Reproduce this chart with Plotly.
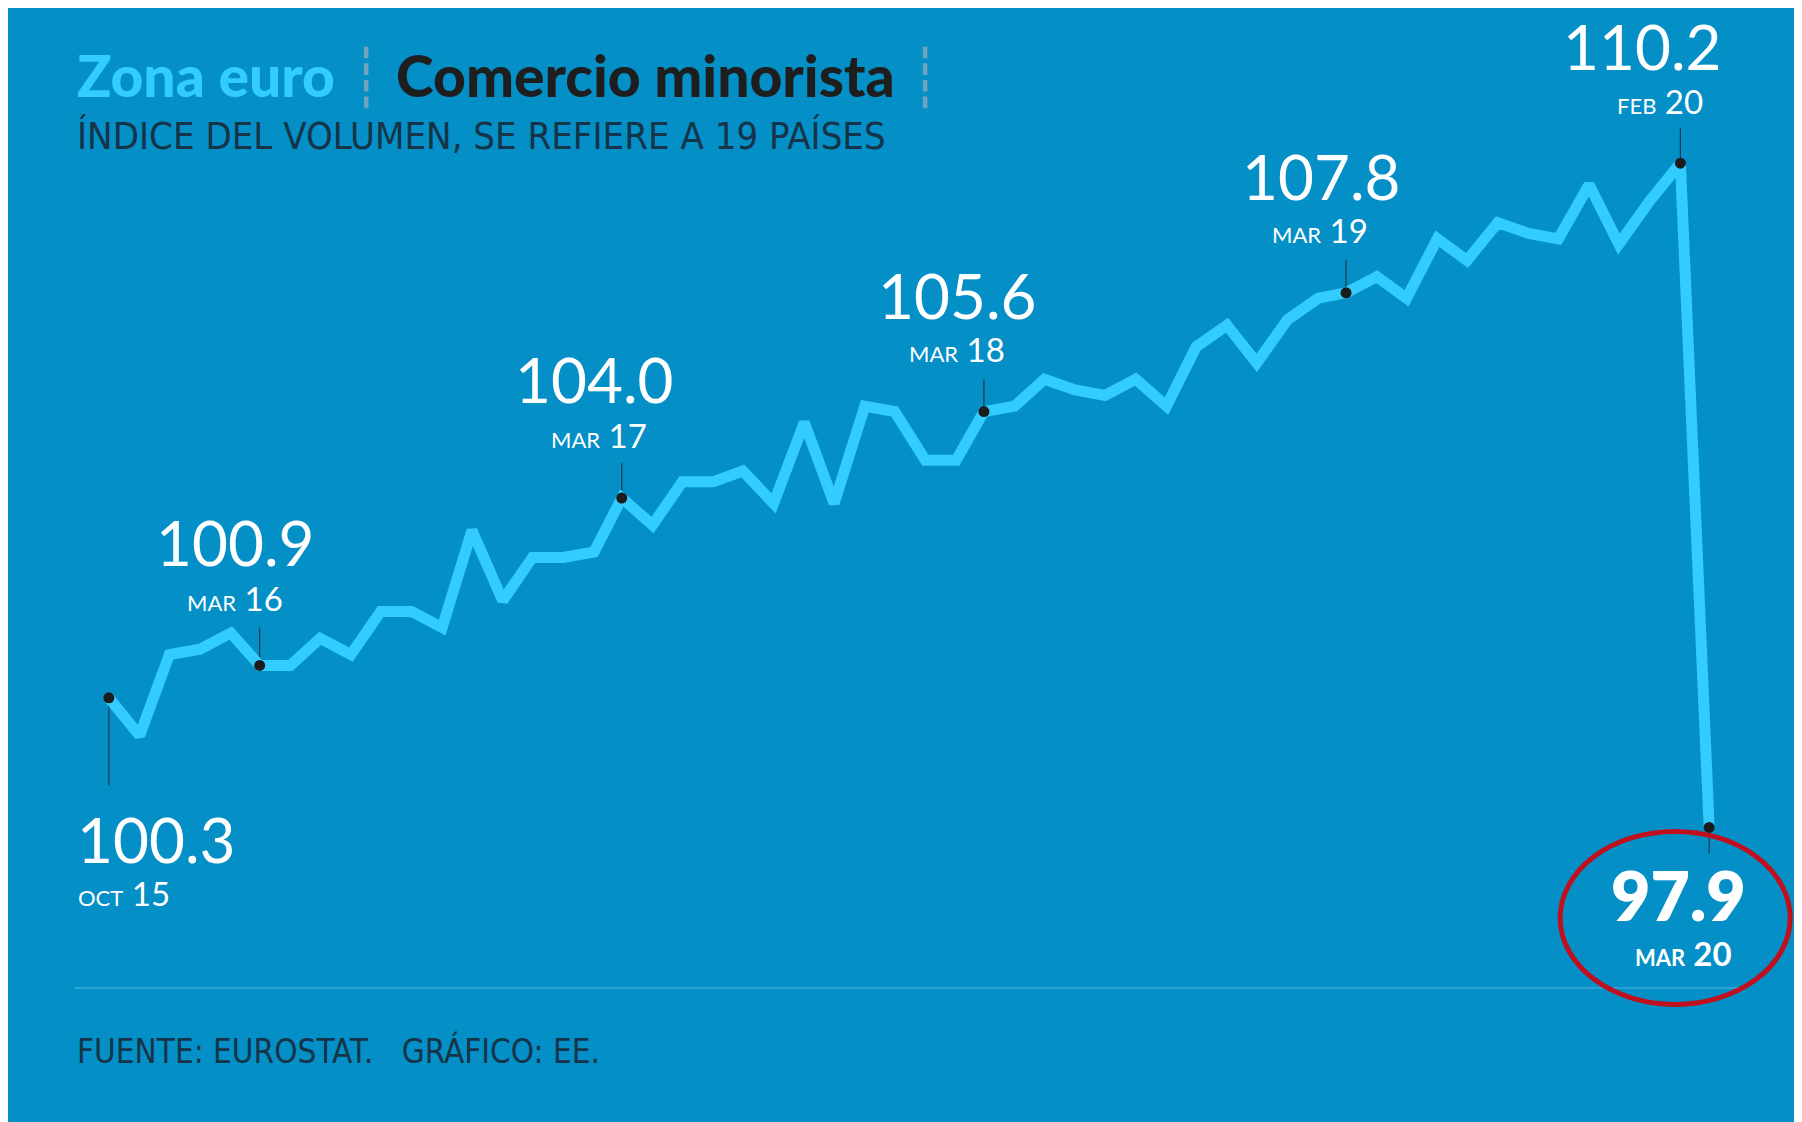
import plotly.graph_objects as go
import pandas as pd

# ---------------- data ----------------
months = pd.date_range("2015-10-01", "2020-03-01", freq="MS")
values = [100.3, 99.6, 101.1, 101.2, 101.5, 100.9, 100.9, 101.4, 101.1, 101.9, 101.9, 101.6,
          103.4, 102.1, 102.9, 102.9, 103.0, 104.0, 103.5, 104.3, 104.3, 104.5, 103.9, 105.4,
          103.9, 105.7, 105.6, 104.7, 104.7, 105.6, 105.7, 106.2, 106.0, 105.9, 106.2, 105.7,
          106.8, 107.2, 106.5, 107.3, 107.7, 107.8, 108.1, 107.7, 108.8, 108.4, 109.1, 108.9,
          108.8, 109.8, 108.7, 109.5, 110.2, 97.9]

hl_index = [0, 5, 17, 29, 41, 52, 53]
hl_month = ["OCT", "MAR", "MAR", "MAR", "MAR", "FEB", "MAR"]
hl_year = ["15", "16", "17", "18", "19", "20", "20"]

title_a = "Zona euro"
title_b = "Comercio minorista"
subtitle = "ÍNDICE DEL VOLUMEN, SE REFIERE A 19 PAÍSES"
source = "FUENTE: EUROSTAT.   GRÁFICO: EE."

Y_RANGE = [96, 112]
PAD = pd.Timedelta(days=20)
X_RANGE = [months[0] - PAD, months[-1] + PAD]

# ---------------- style ----------------
BG = "#048fc7"
LINE = "#33ccff"
DARK = "#163447"
NUM_FONT = "Lato"
NARROW = "Liberation Sans Narrow, DejaVu Sans Condensed, Arial Narrow, sans-serif"

# label placement (pixels relative to the point): num dx, num dy, month dx, month dy, anchor, leader, bold
label_pos = [
    (-34, -141, -33, -195, "left", -88, False),
    (-25, 123, -25, 67, "center", 38, False),
    (-28, 119, -23, 63, "center", 35, False),
    (-27, 117, -27, 63, "center", 32, False),
    (-25, 117, -26, 63, "center", 33, False),
    (-38, 117, -20, 62, "center", 35, False),
    (-31, -67, -26, -126, "center", -26, True),
]

fig = go.Figure()

fig.add_trace(go.Scatter(
    x=months, y=values, mode="lines",
    line=dict(color=LINE, width=11, shape="linear"),
    cliponaxis=False, hoverinfo="skip", showlegend=False,
))

fig.add_trace(go.Scatter(
    x=[months[i] for i in hl_index], y=[values[i] for i in hl_index], mode="markers",
    marker=dict(color="#1c1c1c", size=11, line=dict(width=0)),
    cliponaxis=False, hoverinfo="skip", showlegend=False,
))

shapes = []
# baseline rule
shapes.append(dict(type="line", xref="paper", yref="paper",
                   x0=-0.0087, x1=1.0074, y0=-0.067, y1=-0.067,
                   line=dict(color="#45aedb", width=1.2), layer="below"))

annotations = []
for k, i in enumerate(hl_index):
    ndx, ndy, mdx, mdy, anc, lead, bold = label_pos[k]
    shapes.append(dict(type="line", xref="x", yref="y", ysizemode="pixel",
                       x0=months[i], x1=months[i], yanchor=values[i], y0=0, y1=lead,
                       line=dict(color="#1b3a4c", width=1.2), layer="below"))
    annotations.append(dict(
        x=months[i], y=values[i], xref="x", yref="y", showarrow=False,
        text=f"{values[i]:.1f}", xshift=ndx, yshift=ndy, xanchor=anc, yanchor="middle",
        font=dict(family=NUM_FONT, size=(68 if bold else 62), color="white",
                  weight=(800 if bold else 400))))
    annotations.append(dict(
        x=months[i], y=values[i], xref="x", yref="y", showarrow=False,
        text=f"<span style='font-size:22px'>{hl_month[k]}</span> {hl_year[k]}",
        xshift=mdx, yshift=mdy, xanchor=anc, yanchor="middle",
        font=dict(family=NUM_FONT, size=33, color="white", weight=(700 if bold else 400))))

# red ellipse around final value (anchored at the last point, in paper space so it is not clipped)
x_last_frac = (months[-1] - X_RANGE[0]) / (X_RANGE[1] - X_RANGE[0])
y_last_frac = (values[-1] - Y_RANGE[0]) / (Y_RANGE[1] - Y_RANGE[0])
shapes.append(dict(type="circle", xref="paper", yref="paper", xsizemode="pixel", ysizemode="pixel",
                   xanchor=x_last_frac, yanchor=y_last_frac,
                   x0=-149, x1=81, y0=-177, y1=-4,
                   line=dict(color="#c0101e", width=5), layer="above"))

annotations.append(dict(xref="paper", yref="paper", x=-0.0087, y=0.919,
                        xanchor="left", yanchor="middle", showarrow=False,
                        text=subtitle, font=dict(family=NARROW, size=38, color=DARK)))
annotations.append(dict(xref="paper", yref="paper", x=-0.0087, y=-0.14,
                        xanchor="left", yanchor="middle", showarrow=False,
                        text=source, font=dict(family=NARROW, size=33, color=DARK)))

sep = "<span style='color:#6fa3bd;font-weight:300'>┊</span>"
fig.update_layout(
    width=1802, height=1122,
    margin=dict(l=81, r=81, t=58, b=200),
    paper_bgcolor=BG, plot_bgcolor="rgba(0,0,0,0)",
    title=dict(
        text=f"<span style='color:{LINE}'>{title_a}</span> {sep} "
             f"<span style='color:#1e1e1e'>{title_b}</span> {sep}",
        xref="container", yref="container", x=0.0383, y=0.9385,
        xanchor="left", yanchor="middle",
        font=dict(family="Lato", size=57, weight=900)),
    xaxis=dict(visible=False, range=X_RANGE),
    yaxis=dict(visible=False, range=Y_RANGE),
    shapes=shapes, annotations=annotations, showlegend=False,
)

fig.write_html("out.html")
